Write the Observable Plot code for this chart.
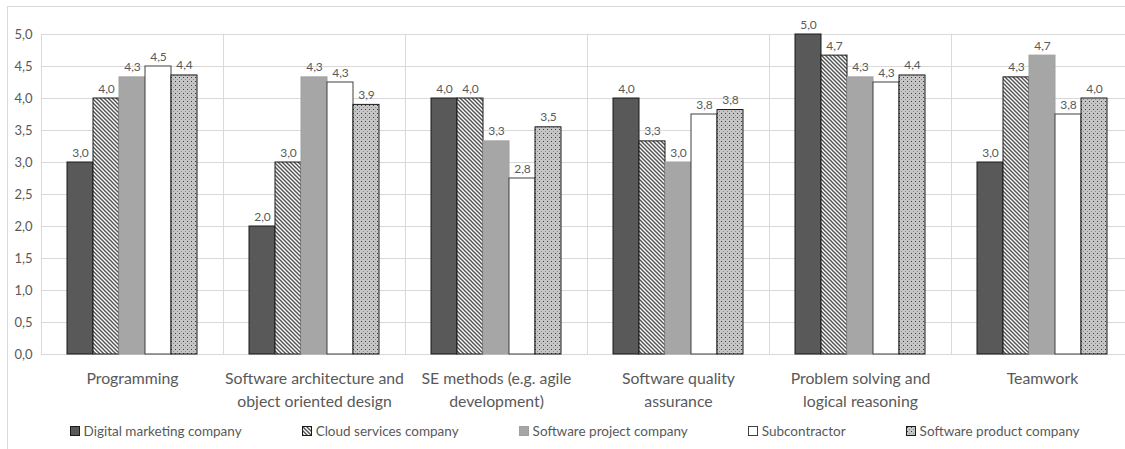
<!DOCTYPE html>
<html>
<head>
<meta charset="utf-8">
<script src="https://cdn.jsdelivr.net/npm/d3@7"></script>
<script src="https://cdn.jsdelivr.net/npm/@observablehq/plot@0.6"></script>
<style>
  html, body { margin: 0; padding: 0; overflow: hidden; background: #fff; }
  #wrap { position: relative; width: 1125px; height: 449px; overflow: hidden; font-family: Lato, "Open Sans", sans-serif; }
  #border { position: absolute; left: 7px; top: 6px; width: 1200px; height: 500px; border: 1px solid #d9d9d9; box-sizing: border-box; }
  #chart { position: absolute; left: 0; top: 0; width: 1145px; }
  #chart svg { max-width: none !important; }
  #legend { position: absolute; left: 0; top: 423px; width: 1149px; display: flex; justify-content: center; gap: 60px; font-size: 13.5px; color: #595959; }
  .item { display: flex; align-items: center; white-space: nowrap; }
  .item svg { margin-right: 3px; }
</style>
</head>
<body>
<svg width="0" height="0" style="position:absolute">
  <defs>
    <pattern id="stripes" patternUnits="userSpaceOnUse" width="4" height="4">
      <rect width="4" height="4" fill="#fff"></rect>
      <path d="M-1,-1 L5,5 M-1,3 L1,5 M3,-1 L5,1" stroke="#555" stroke-width="1.5"></path>
    </pattern>
    <pattern id="dots" patternUnits="userSpaceOnUse" width="4" height="4">
      <rect width="4" height="4" fill="#c6c6c6"></rect>
      <rect x="1" y="1" width="1" height="1" fill="#3a3a3a"></rect>
      <rect x="3" y="3" width="1" height="1" fill="#8a8a8a"></rect>
    </pattern>
  </defs>
</svg>
<div id="wrap">
  <div id="border"></div>
  <div id="chart"></div>
  <div id="legend"></div>
</div>
<script>
// ---- data ----
const categories = [
  "Programming",
  "Software architecture and\nobject oriented design",
  "SE methods (e.g. agile\ndevelopment)",
  "Software quality\nassurance",
  "Problem solving and\nlogical reasoning",
  "Teamwork"
];
const series = [
  "Digital marketing company",
  "Cloud services company",
  "Software project company",
  "Subcontractor",
  "Software product company"
];
const digitalMarketing = [3.0, 2.0, 4.0, 4.0, 5.0, 3.0];
const cloudServices    = [4.0, 3.0, 4.0, 3.33, 4.67, 4.33];
const softwareProject  = [4.33, 4.33, 3.33, 3.0, 4.33, 4.67];
const subcontractor    = [4.5, 4.25, 2.75, 3.75, 4.25, 3.75];
const softwareProduct  = [4.36, 3.9, 3.55, 3.82, 4.36, 4.0];
const yTicks = [0, 0.5, 1, 1.5, 2, 2.5, 3, 3.5, 4, 4.5, 5];

// ---- styles ----
const seriesValues = [digitalMarketing, cloudServices, softwareProject, subcontractor, softwareProduct];
const fills = ["#595959", "url(#stripes)", "#a6a6a6", "#ffffff", "url(#dots)"];
const strokes = ["#1a1a1a", "#1a1a1a", "#a0a0a0", "#404040", "#1a1a1a"];

const rows = categories.flatMap((c, i) => series.map((s, j) => ({category: c, series: s, value: seriesValues[j][i]})));
const fmt = v => v.toFixed(1).replace(".", ",");

const chart = Plot.plot({
  width: 1145,
  height: 418,
  marginLeft: 39,
  marginRight: 11,
  marginTop: 34,
  marginBottom: 64,
  style: {fontFamily: "Lato, 'Open Sans', sans-serif", color: "#595959", background: "transparent", overflow: "visible", maxWidth: "none"},
  fx: {domain: categories, padding: 0, label: null},
  x: {domain: series, paddingInner: 0, paddingOuter: 0.917, axis: null},
  y: {domain: [0, 5], axis: null},
  marks: [
    Plot.gridY(yTicks, {stroke: "#d9d9d9", strokeOpacity: 1}),
    Plot.frame({stroke: "#d9d9d9", strokeOpacity: 1}),
    ...series.map((s, j) => Plot.barY(rows, {
      filter: d => d.series === s,
      fx: "category", x: "series", y: "value",
      fill: fills[j], stroke: strokes[j], strokeWidth: 1
    })),
    Plot.text(rows, {
      fx: "category", x: "series", y: "value",
      text: d => fmt(d.value), dy: -6, lineAnchor: "bottom",
      fill: "#595959", fontSize: 12
    }),
    Plot.axisY(yTicks, {tickSize: 0, tickPadding: 9, tickFormat: fmt, fontSize: 13, label: null}),
    Plot.axisFx({anchor: "bottom", tickSize: 0, tickPadding: 14, fontSize: 15.8, lineHeight: 1.42, label: null})
  ]
});
document.getElementById("chart").appendChild(chart);

// ---- legend ----
const legend = d3.select("#legend");
series.forEach((s, j) => {
  const it = legend.append("div").attr("class", "item");
  const sv = it.append("svg").attr("width", 11).attr("height", 11);
  sv.append("rect").attr("x", 0.5).attr("y", 0.5).attr("width", 9).attr("height", 9)
    .attr("fill", fills[j]).attr("stroke", strokes[j]);
  it.append("span").text(s);
});
</script>
</body>
</html>
